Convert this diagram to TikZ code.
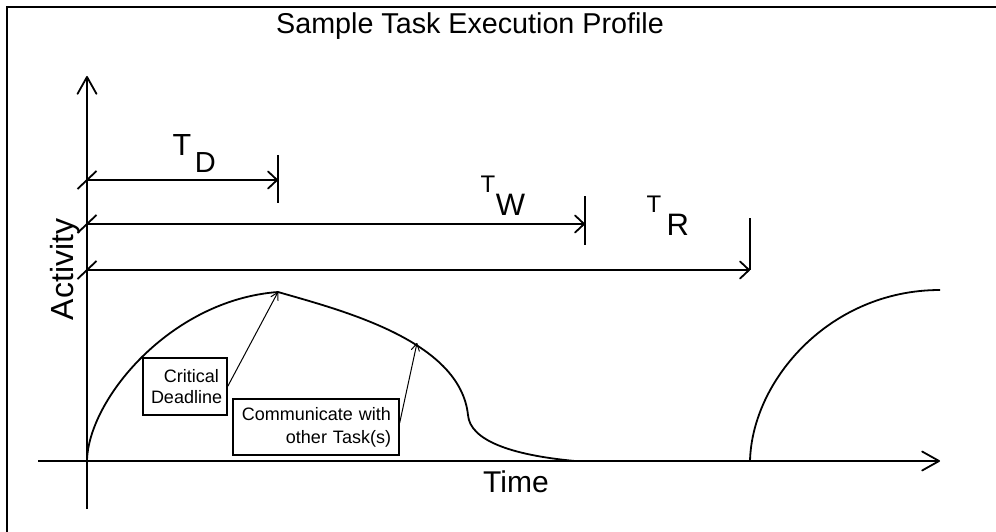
\documentclass[tikz,border=0pt]{standalone}
\usepackage{fontspec}
\setmainfont{Liberation Sans}
\usetikzlibrary{arrows.meta}
\begin{document}
\begin{tikzpicture}[x=1pt,y=-1pt,
  heavy/.style={line width=1.8pt},
  axisarrow/.style={heavy,-{Straight Barb[length=17pt,width=19pt,round]}},
  dimarrow/.style={heavy,-{Straight Barb[length=9pt,width=17pt,round]}},
  leader/.style={line width=1pt,-{Straight Barb[length=7pt,width=8pt,round]}},
  callout/.style={draw,line width=1.3pt,inner xsep=8pt,inner ysep=0pt,align=right},
  lbl/.style={inner sep=0pt}]
\useasboundingbox (0,0) rectangle (996,532);

% frame
\draw[line width=2pt] (7,532) -- (7,7) -- (996,7);

% title
\node[lbl,anchor=base,font=\fontsize{28.7}{30}\selectfont] (title) at (470,34) {Sample Task Execution Profile};

% axes
\coordinate (yb) at (87,509);
\coordinate (yt) at (87,76);
\coordinate (xl) at (38,461);
\coordinate (xr) at (940,461);
\draw[axisarrow] (yb) -- (yt);
\draw[axisarrow] (xl) -- (xr);

\node[lbl,anchor=base,rotate=90,font=\fontsize{32}{32}\selectfont] (act) at (73,269.5) {Activity};
\node[lbl,anchor=base,font=\fontsize{30}{30}\selectfont] (time) at (516,492) {Time};

% dimension lines
\coordinate (tdL) at (87,180);  \coordinate (tdR) at (278,180);
\coordinate (twL) at (87,224);  \coordinate (twR) at (585,224);
\coordinate (trL) at (87,270);  \coordinate (trR) at (750,270);
\draw[dimarrow] (tdL) -- (tdR);
\draw[dimarrow] (twL) -- (twR);
\draw[dimarrow] (trL) -- (trR);
\foreach \p in {tdL,twL,trL}
  \draw[heavy] ([shift={(-9.5,9)}]\p) -- ([shift={(9.5,-9)}]\p);
\draw[heavy] ([shift={(0,-25)}]tdR) -- ([shift={(0,23)}]tdR);
\draw[heavy] ([shift={(0,-28)}]twR) -- ([shift={(0,21)}]twR);
\draw[heavy] ([shift={(0,-52)}]trR) -- (trR);

% interval labels
\node[lbl,anchor=base west] (td) at (172.3,156)
  {\fontsize{30.5}{30}\selectfont T\hspace{3.8pt}\raisebox{-17pt}{\fontsize{29}{29}\selectfont D}};
\node[lbl,anchor=base west] (tw) at (480.5,193)
  {\fontsize{24}{24}\selectfont T\hspace{0.5pt}\raisebox{-22pt}{\fontsize{31}{31}\selectfont W}};
\node[lbl,anchor=base west] (tr) at (646.5,212)
  {\fontsize{24}{24}\selectfont T\hspace{5.3pt}\raisebox{-23pt}{\fontsize{31}{31}\selectfont R}};

% activity profile
\coordinate (peak) at (278,292);
\draw[heavy,line join=round] (87,461) .. controls (88,400) and (170,300) .. (peak)
  .. controls (340,310) and (460,340) .. (468,415)
  .. controls (470,440) and (510,455) .. (575,461);
\draw[heavy] (750,461) .. controls (752,380) and (830,290) .. (940,290);

% callouts
\node[callout,text width=68pt,minimum width=84pt,minimum height=57pt,
      font=\fontsize{18}{21.7}\selectfont] (crit) at (185,386.5) {Critical\\Deadline};
\node[callout,text width=150pt,minimum width=166pt,minimum height=56pt,
      font=\fontsize{18}{23.3}\selectfont] (comm) at (316,427) {Communicate with\\other Task(s)};
\coordinate (commtip) at (417,343);
\draw[leader] (crit.east) -- (peak);
\draw[leader] ([shift={(0,-4)}]comm.east) -- (commtip);
\end{tikzpicture}
\end{document}
